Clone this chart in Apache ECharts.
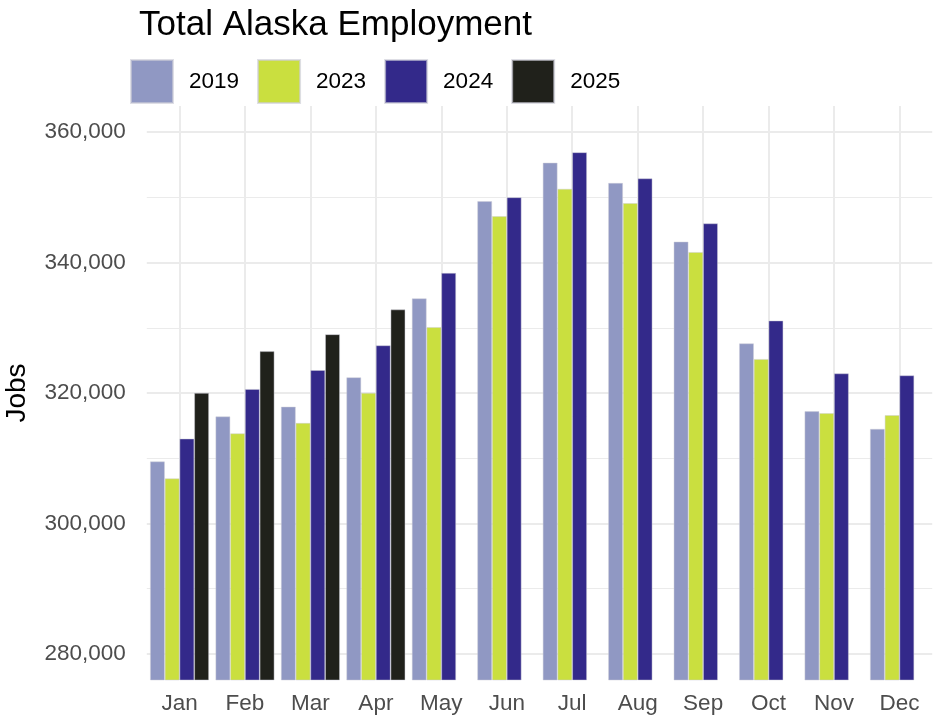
<!DOCTYPE html>
<html>
<head>
<meta charset="utf-8">
<script src="https://cdn.jsdelivr.net/npm/echarts@6/dist/echarts.min.js"></script>
<style>
  html, body { margin: 0; padding: 0; background: #fff; }
  #main { width: 952px; height: 728px; }
</style>
</head>
<body>
<div id="main"></div>
<script>
// 月份与各年就业人数（读图估算）
var months = ['Jan', 'Feb', 'Mar', 'Apr', 'May', 'Jun', 'Jul', 'Aug', 'Sep', 'Oct', 'Nov', 'Dec'];
var years = ['2019', '2023', '2024', '2025'];
var jobs2019 = [309500, 316400, 317900, 322400, 334500, 349400, 355300, 352200, 343200, 327600, 317200, 314500];
var jobs2023 = [306900, 313800, 315400, 320000, 330100, 347100, 351300, 349100, 341600, 325200, 316900, 316600];
var jobs2024 = [313000, 320600, 323500, 327300, 338400, 350000, 356900, 352900, 346000, 331100, 323000, 322700];
var jobs2025 = [320000, 326400, 329000, 332800, null, null, null, null, null, null, null, null];

// 坐标刻度
var majorTicks = [280000, 300000, 320000, 340000, 360000];
var minorTicks = [290000, 310000, 330000, 350000];
var yMin = 276000;
var yMax = 364000;

var colors = ['#9098c3', '#cadf3f', '#33298a', '#20211b'];
var font = 'Liberation Sans, Arial, sans-serif';

var chart = echarts.init(document.getElementById('main'), null, { renderer: 'canvas' });

// 网格线用 markLine 画在柱子后面
var gridLines = [];
months.forEach(function (m) {
  gridLines.push({ xAxis: m, lineStyle: { width: 2 } });
});
majorTicks.forEach(function (v) {
  gridLines.push({ yAxis: v, lineStyle: { width: 2 } });
});
minorTicks.forEach(function (v) {
  gridLines.push({ yAxis: v, lineStyle: { width: 1.2 } });
});

function barSeries(name, data, color) {
  return {
    name: name,
    type: 'bar',
    z: 3,
    barGap: '0%',
    barCategoryGap: '10%',
    itemStyle: {
      color: color,
      borderColor: 'rgba(205,205,215,0.65)',
      borderWidth: 0.7
    },
    data: data
  };
}

chart.setOption({
  backgroundColor: '#ffffff',
  animation: false,
  textStyle: { fontFamily: font },
  title: {
    text: 'Total Alaska Employment',
    left: 139,
    top: 8,
    padding: 0,
    textStyle: { fontSize: 35, fontWeight: 'normal', color: '#000', fontFamily: font }
  },
  legend: {
    data: years,
    left: 130,
    top: 59,
    padding: 0,
    icon: 'rect',
    itemWidth: 42,
    itemHeight: 43,
    itemGap: 18,
    textStyle: { fontSize: 22.5, color: '#000', padding: [0, 0, 0, 11], fontFamily: font }
  },
  grid: {
    left: 146.8,
    right: 19.8,
    top: 106,
    bottom: 48,
    containLabel: false,
    outerBoundsMode: 'none'
  },
  xAxis: {
    type: 'category',
    data: months,
    axisLine: { show: false },
    axisTick: { show: false },
    splitLine: { show: false },
    axisLabel: { fontSize: 22.5, color: '#4d4d4d', margin: 12, fontFamily: font }
  },
  yAxis: {
    type: 'value',
    min: yMin,
    max: yMax,
    interval: 4000,
    name: 'Jobs',
    nameLocation: 'middle',
    nameGap: 116,
    nameRotate: 90,
    nameTextStyle: { fontSize: 28, color: '#000', fontFamily: font },
    axisLine: { show: false },
    axisTick: { show: false },
    splitLine: { show: false },
    axisLabel: {
      fontSize: 22.5,
      color: '#4d4d4d',
      margin: 21,
      fontFamily: font,
      formatter: function (v) {
        return majorTicks.indexOf(v) >= 0 ? v.toLocaleString('en-US') : '';
      }
    }
  },
  series: [
    {
      name: 'grid',
      type: 'line',
      data: [],
      silent: true,
      z: 1,
      markLine: {
        silent: true,
        symbol: 'none',
        z: 1,
        label: { show: false },
        lineStyle: { color: '#ebebeb', type: 'solid' },
        emphasis: { disabled: true },
        data: gridLines
      }
    },
    barSeries('2019', jobs2019, colors[0]),
    barSeries('2023', jobs2023, colors[1]),
    barSeries('2024', jobs2024, colors[2]),
    barSeries('2025', jobs2025, colors[3])
  ]
});
</script>
</body>
</html>
